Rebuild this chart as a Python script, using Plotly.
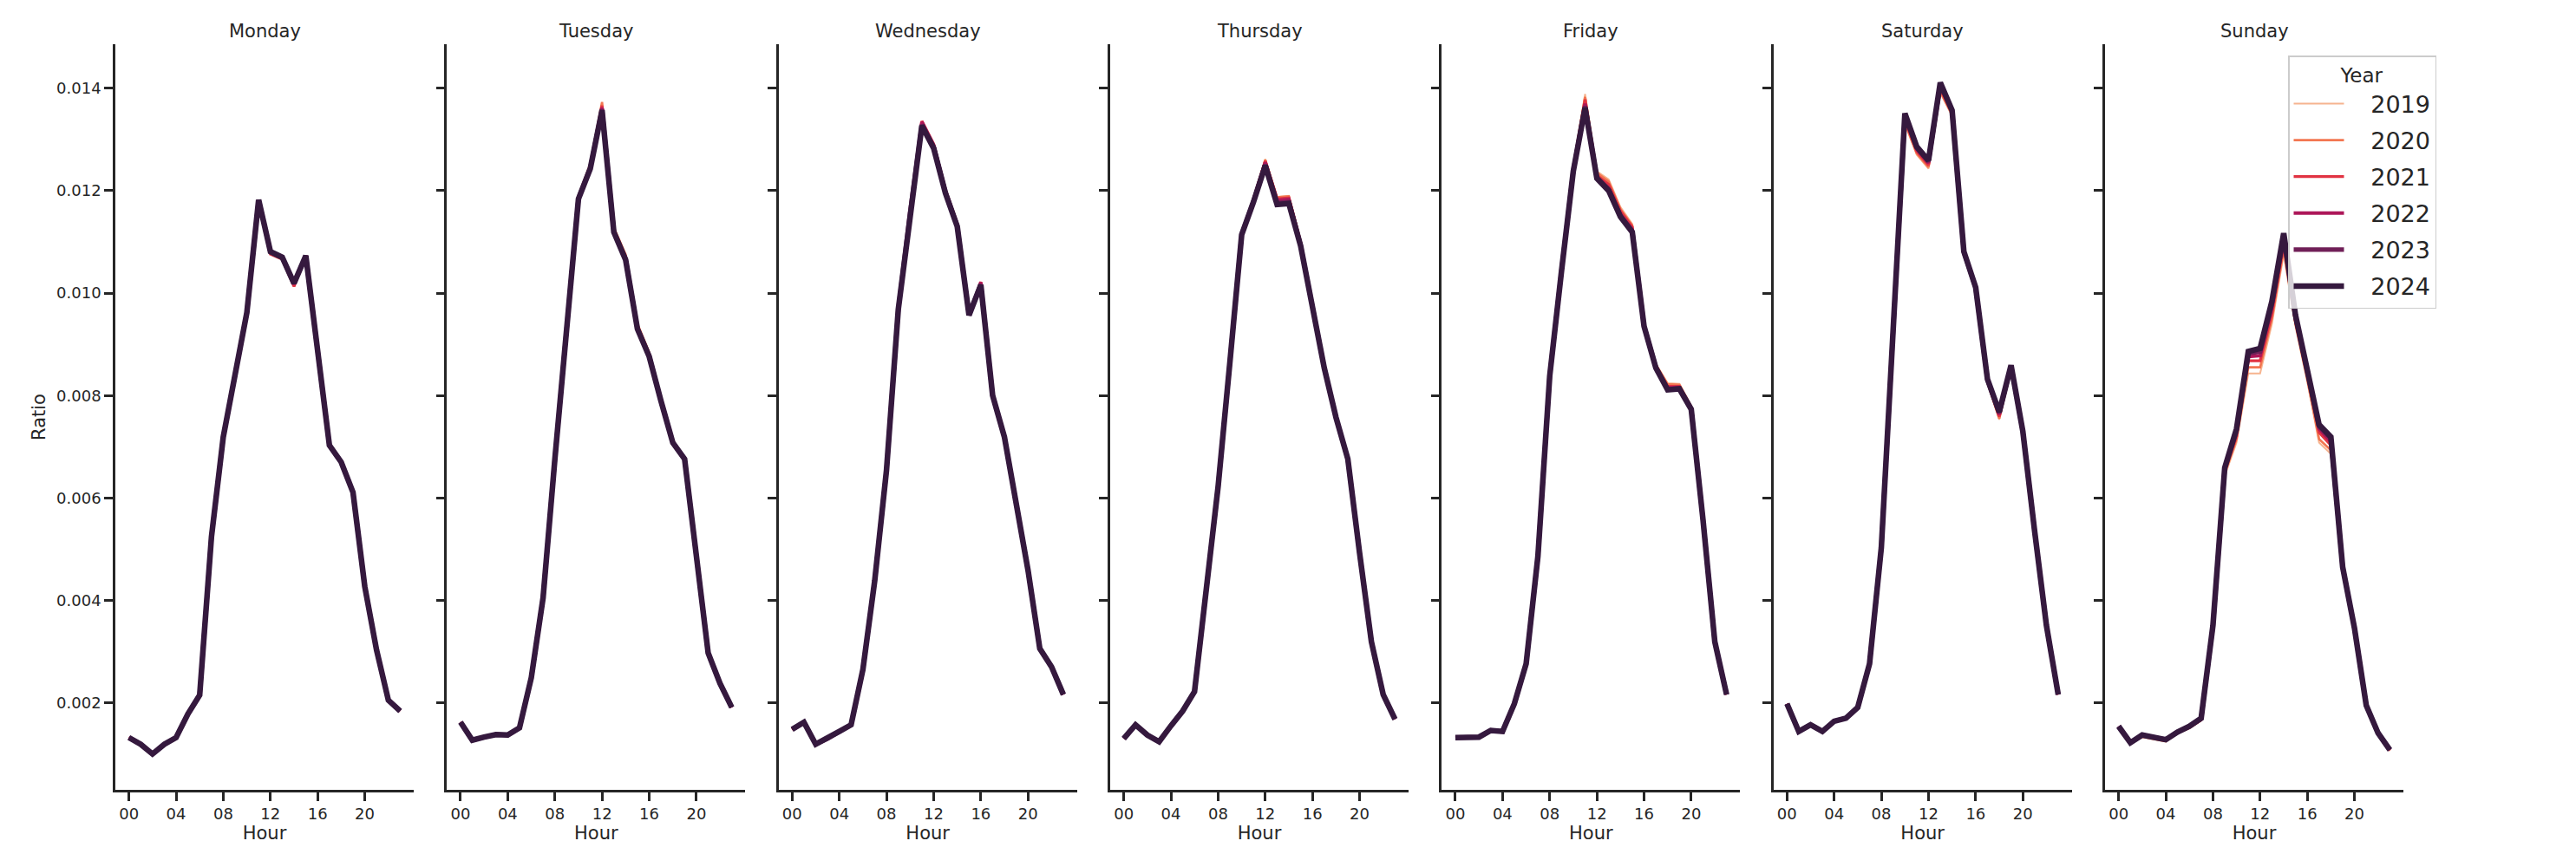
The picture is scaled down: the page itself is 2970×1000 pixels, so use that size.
import plotly.graph_objects as go

HOURS = list(range(24))
DAYS = ["Monday", "Tuesday", "Wednesday", "Thursday", "Friday", "Saturday", "Sunday"]
YEARS = ["2019", "2020", "2021", "2022", "2023", "2024"]
COLORS = ["#f6b48f", "#f37651", "#e13342", "#ad1759", "#701f57", "#35193e"]
WIDTHS = [2.0, 2.7, 3.3, 4.0, 5.2, 6.5]
X_TICKS = [0, 4, 8, 12, 16, 20]
X_TICKTEXT = ["00", "04", "08", "12", "16", "20"]
Y_TICKS = [0.002, 0.004, 0.006, 0.008, 0.010, 0.012, 0.014]

# ---------------- Monday ----------------
MON_2019 = [0.00132,0.00119,0.00100,0.00119,0.00132,0.00178,0.00215,0.00524,0.00719,0.00843,0.00962,0.01182,0.01079,0.01068,0.01016,0.01073,0.00881,0.00703,0.00670,0.00611,0.00427,0.00303,0.00205,0.00184]
MON_2020 = [0.00132,0.00119,0.00100,0.00119,0.00132,0.00178,0.00215,0.00524,0.00719,0.00843,0.00962,0.01182,0.01079,0.01068,0.01016,0.01073,0.00881,0.00703,0.00670,0.00611,0.00427,0.00303,0.00205,0.00184]
MON_2021 = [0.00132,0.00119,0.00100,0.00119,0.00132,0.00178,0.00215,0.00524,0.00719,0.00843,0.00960,0.01182,0.01076,0.01066,0.01013,0.01073,0.00881,0.00703,0.00670,0.00611,0.00427,0.00303,0.00205,0.00184]
MON_2022 = [0.00132,0.00119,0.00100,0.00119,0.00132,0.00178,0.00215,0.00524,0.00719,0.00843,0.00962,0.01182,0.01080,0.01069,0.01017,0.01073,0.00881,0.00703,0.00670,0.00611,0.00427,0.00303,0.00205,0.00184]
MON_2023 = [0.00132,0.00119,0.00100,0.00119,0.00132,0.00178,0.00215,0.00524,0.00719,0.00843,0.00962,0.01182,0.01081,0.01070,0.01019,0.01073,0.00881,0.00703,0.00670,0.00611,0.00427,0.00303,0.00205,0.00184]
MON_2024 = [0.00132,0.00119,0.00100,0.00119,0.00132,0.00178,0.00215,0.00524,0.00719,0.00843,0.00962,0.01182,0.01081,0.01070,0.01019,0.01073,0.00881,0.00703,0.00670,0.00611,0.00427,0.00303,0.00205,0.00184]

# ---------------- Tuesday ----------------
TUE_2019 = [0.00162,0.00127,0.00133,0.00138,0.00137,0.00151,0.00249,0.00405,0.00676,0.00926,0.01188,0.01250,0.01368,0.01126,0.01073,0.00938,0.00882,0.00794,0.00711,0.00678,0.00492,0.00297,0.00238,0.00191]
TUE_2020 = [0.00162,0.00127,0.00133,0.00138,0.00137,0.00151,0.00249,0.00405,0.00676,0.00926,0.01190,0.01252,0.01373,0.01128,0.01075,0.00940,0.00884,0.00795,0.00712,0.00678,0.00492,0.00297,0.00238,0.00191]
TUE_2021 = [0.00162,0.00127,0.00133,0.00138,0.00137,0.00151,0.00249,0.00405,0.00676,0.00925,0.01187,0.01248,0.01366,0.01124,0.01071,0.00936,0.00880,0.00792,0.00710,0.00677,0.00492,0.00297,0.00238,0.00191]
TUE_2022 = [0.00162,0.00127,0.00133,0.00138,0.00137,0.00151,0.00249,0.00405,0.00676,0.00924,0.01186,0.01246,0.01362,0.01122,0.01068,0.00933,0.00878,0.00790,0.00709,0.00676,0.00492,0.00297,0.00238,0.00191]
TUE_2023 = [0.00162,0.00127,0.00133,0.00138,0.00137,0.00151,0.00249,0.00405,0.00676,0.00924,0.01185,0.01244,0.01359,0.01120,0.01066,0.00931,0.00877,0.00789,0.00708,0.00676,0.00492,0.00297,0.00238,0.00191]
TUE_2024 = [0.00162,0.00127,0.00133,0.00138,0.00137,0.00151,0.00249,0.00405,0.00676,0.00924,0.01184,0.01243,0.01357,0.01119,0.01065,0.00930,0.00876,0.00789,0.00708,0.00676,0.00492,0.00297,0.00238,0.00191]

# ---------------- Wednesday ----------------
WED_2019 = [0.00148,0.00162,0.00119,0.00130,0.00144,0.00157,0.00265,0.00438,0.00654,0.00968,0.01158,0.01330,0.01286,0.01197,0.01132,0.00957,0.01018,0.00800,0.00719,0.00589,0.00459,0.00306,0.00270,0.00216]
WED_2020 = [0.00148,0.00162,0.00119,0.00130,0.00144,0.00157,0.00265,0.00438,0.00654,0.00968,0.01158,0.01332,0.01287,0.01198,0.01133,0.00957,0.01019,0.00800,0.00719,0.00589,0.00459,0.00306,0.00270,0.00216]
WED_2021 = [0.00148,0.00162,0.00119,0.00130,0.00144,0.00157,0.00265,0.00438,0.00654,0.00968,0.01159,0.01336,0.01291,0.01202,0.01136,0.00958,0.01022,0.00800,0.00719,0.00589,0.00459,0.00306,0.00270,0.00216]
WED_2022 = [0.00148,0.00162,0.00119,0.00130,0.00144,0.00157,0.00265,0.00438,0.00654,0.00968,0.01158,0.01334,0.01289,0.01200,0.01134,0.00958,0.01021,0.00800,0.00719,0.00589,0.00459,0.00306,0.00270,0.00216]
WED_2023 = [0.00148,0.00162,0.00119,0.00130,0.00144,0.00157,0.00265,0.00438,0.00654,0.00968,0.01157,0.01329,0.01285,0.01196,0.01131,0.00957,0.01017,0.00800,0.00719,0.00589,0.00459,0.00306,0.00270,0.00216]
WED_2024 = [0.00148,0.00162,0.00119,0.00130,0.00144,0.00157,0.00265,0.00438,0.00654,0.00968,0.01157,0.01327,0.01283,0.01195,0.01130,0.00957,0.01016,0.00800,0.00719,0.00589,0.00459,0.00306,0.00270,0.00216]

# ---------------- Thursday ----------------
THU_2019 = [0.00130,0.00157,0.00137,0.00124,0.00155,0.00184,0.00222,0.00427,0.00622,0.00865,0.01118,0.01186,0.01262,0.01188,0.01190,0.01102,0.00972,0.00856,0.00758,0.00676,0.00492,0.00319,0.00216,0.00168]
THU_2020 = [0.00130,0.00157,0.00137,0.00124,0.00155,0.00184,0.00222,0.00427,0.00622,0.00865,0.01118,0.01185,0.01260,0.01187,0.01189,0.01101,0.00971,0.00856,0.00758,0.00676,0.00492,0.00319,0.00216,0.00168]
THU_2021 = [0.00130,0.00157,0.00137,0.00124,0.00155,0.00184,0.00222,0.00427,0.00622,0.00865,0.01117,0.01183,0.01258,0.01184,0.01186,0.01099,0.00970,0.00855,0.00757,0.00676,0.00492,0.00319,0.00216,0.00168]
THU_2022 = [0.00130,0.00157,0.00137,0.00124,0.00155,0.00184,0.00222,0.00427,0.00622,0.00865,0.01116,0.01181,0.01255,0.01181,0.01183,0.01096,0.00969,0.00855,0.00757,0.00676,0.00492,0.00319,0.00216,0.00168]
THU_2023 = [0.00130,0.00157,0.00137,0.00124,0.00155,0.00184,0.00222,0.00427,0.00622,0.00865,0.01115,0.01179,0.01251,0.01176,0.01178,0.01093,0.00968,0.00854,0.00757,0.00676,0.00492,0.00319,0.00216,0.00168]
THU_2024 = [0.00130,0.00157,0.00137,0.00124,0.00155,0.00184,0.00222,0.00427,0.00622,0.00865,0.01114,0.01178,0.01249,0.01173,0.01175,0.01092,0.00968,0.00854,0.00757,0.00676,0.00492,0.00319,0.00216,0.00168]

# ---------------- Friday ----------------
FRI_2019 = [0.00132,0.00133,0.00133,0.00146,0.00144,0.00198,0.00276,0.00486,0.00838,0.01048,0.01250,0.01389,0.01238,0.01222,0.01168,0.01135,0.00942,0.00862,0.00824,0.00823,0.00780,0.00560,0.00319,0.00216]
FRI_2020 = [0.00132,0.00133,0.00133,0.00146,0.00144,0.00198,0.00276,0.00486,0.00838,0.01047,0.01247,0.01383,0.01235,0.01218,0.01164,0.01132,0.00940,0.00860,0.00822,0.00821,0.00778,0.00559,0.00319,0.00216]
FRI_2021 = [0.00132,0.00133,0.00133,0.00146,0.00144,0.00198,0.00276,0.00486,0.00838,0.01046,0.01244,0.01378,0.01230,0.01212,0.01160,0.01129,0.00938,0.00858,0.00818,0.00818,0.00776,0.00558,0.00319,0.00216]
FRI_2022 = [0.00132,0.00133,0.00133,0.00146,0.00144,0.00198,0.00276,0.00486,0.00838,0.01045,0.01241,0.01370,0.01227,0.01205,0.01154,0.01124,0.00937,0.00856,0.00815,0.00816,0.00775,0.00558,0.00319,0.00216]
FRI_2023 = [0.00132,0.00133,0.00133,0.00146,0.00144,0.00198,0.00276,0.00486,0.00838,0.01044,0.01239,0.01365,0.01225,0.01202,0.01151,0.01121,0.00936,0.00855,0.00812,0.00814,0.00774,0.00557,0.00319,0.00216]
FRI_2024 = [0.00132,0.00133,0.00133,0.00146,0.00144,0.00198,0.00276,0.00486,0.00838,0.01043,0.01238,0.01362,0.01224,0.01200,0.01149,0.01119,0.00935,0.00854,0.00811,0.00813,0.00773,0.00557,0.00319,0.00216]

# ---------------- Saturday ----------------
SAT_2019 = [0.00198,0.00144,0.00157,0.00144,0.00164,0.00170,0.00191,0.00276,0.00503,0.00940,0.01330,0.01270,0.01243,0.01391,0.01346,0.01075,0.01005,0.00824,0.00753,0.00850,0.00728,0.00535,0.00351,0.00216]
SAT_2020 = [0.00198,0.00144,0.00157,0.00144,0.00164,0.00170,0.00191,0.00276,0.00503,0.00941,0.01333,0.01273,0.01246,0.01394,0.01348,0.01076,0.01006,0.00826,0.00755,0.00852,0.00729,0.00535,0.00351,0.00216]
SAT_2021 = [0.00198,0.00144,0.00157,0.00144,0.00164,0.00170,0.00191,0.00276,0.00503,0.00943,0.01338,0.01277,0.01250,0.01399,0.01351,0.01078,0.01008,0.00828,0.00759,0.00855,0.00729,0.00535,0.00351,0.00216]
SAT_2022 = [0.00198,0.00144,0.00157,0.00144,0.00164,0.00170,0.00191,0.00276,0.00503,0.00944,0.01343,0.01281,0.01254,0.01404,0.01354,0.01079,0.01009,0.00830,0.00763,0.00857,0.00730,0.00535,0.00351,0.00216]
SAT_2023 = [0.00198,0.00144,0.00157,0.00144,0.00164,0.00170,0.00191,0.00276,0.00503,0.00945,0.01348,0.01284,0.01257,0.01408,0.01356,0.01080,0.01010,0.00831,0.00766,0.00858,0.00730,0.00535,0.00351,0.00216]
SAT_2024 = [0.00198,0.00144,0.00157,0.00144,0.00164,0.00170,0.00191,0.00276,0.00503,0.00946,0.01351,0.01286,0.01259,0.01411,0.01357,0.01081,0.01011,0.00832,0.00768,0.00859,0.00730,0.00535,0.00351,0.00216]

# ---------------- Sunday ----------------
SUN_2019 = [0.00152,0.00120,0.00133,0.00128,0.00124,0.00140,0.00150,0.00165,0.00345,0.00643,0.00708,0.00843,0.00843,0.00940,0.01076,0.00935,0.00827,0.00708,0.00686,0.00460,0.00340,0.00192,0.00139,0.00106]
SUN_2020 = [0.00153,0.00121,0.00134,0.00129,0.00125,0.00141,0.00151,0.00166,0.00347,0.00648,0.00715,0.00855,0.00855,0.00950,0.01085,0.00940,0.00832,0.00715,0.00693,0.00462,0.00342,0.00193,0.00140,0.00107]
SUN_2021 = [0.00153,0.00121,0.00135,0.00130,0.00126,0.00142,0.00152,0.00167,0.00348,0.00652,0.00720,0.00868,0.00868,0.00960,0.01095,0.00945,0.00840,0.00728,0.00703,0.00463,0.00343,0.00194,0.00140,0.00107]
SUN_2022 = [0.00154,0.00122,0.00136,0.00131,0.00127,0.00142,0.00153,0.00168,0.00349,0.00656,0.00727,0.00876,0.00878,0.00972,0.01105,0.00950,0.00846,0.00735,0.00710,0.00464,0.00345,0.00195,0.00141,0.00108]
SUN_2023 = [0.00154,0.00122,0.00137,0.00132,0.00128,0.00143,0.00154,0.00169,0.00350,0.00658,0.00732,0.00882,0.00886,0.00980,0.01110,0.00954,0.00851,0.00740,0.00716,0.00465,0.00346,0.00195,0.00141,0.00108]
SUN_2024 = [0.00154,0.00122,0.00137,0.00132,0.00128,0.00143,0.00154,0.00170,0.00351,0.00659,0.00735,0.00886,0.00892,0.00984,0.01117,0.00957,0.00854,0.00743,0.00719,0.00465,0.00346,0.00195,0.00141,0.00108]

SERIES = {
    "Monday": [MON_2019, MON_2020, MON_2021, MON_2022, MON_2023, MON_2024],
    "Tuesday": [TUE_2019, TUE_2020, TUE_2021, TUE_2022, TUE_2023, TUE_2024],
    "Wednesday": [WED_2019, WED_2020, WED_2021, WED_2022, WED_2023, WED_2024],
    "Thursday": [THU_2019, THU_2020, THU_2021, THU_2022, THU_2023, THU_2024],
    "Friday": [FRI_2019, FRI_2020, FRI_2021, FRI_2022, FRI_2023, FRI_2024],
    "Saturday": [SAT_2019, SAT_2020, SAT_2021, SAT_2022, SAT_2023, SAT_2024],
    "Sunday": [SUN_2019, SUN_2020, SUN_2021, SUN_2022, SUN_2023, SUN_2024],
}

FONT = "DejaVu Sans"
INK = "#262626"
NBSP = "\u00a0"

W, H = 2970, 1000
ML, MR, MT, MB = 133, 199, 51, 89
PLOT_W = W - ML - MR
PANEL_W = 344
GAP = (PLOT_W - 7 * PANEL_W) / 6

fig = go.Figure()
layout = dict(
    width=W, height=H,
    margin=dict(l=ML, r=MR, t=MT, b=MB, pad=0),
    paper_bgcolor="white", plot_bgcolor="white",
    font=dict(family=FONT, color=INK, size=18),
    showlegend=True,
)
annotations = []

for i, day in enumerate(DAYS):
    n = "" if i == 0 else str(i + 1)
    x0 = (i * (PANEL_W + GAP)) / PLOT_W
    x1 = (i * (PANEL_W + GAP) + PANEL_W) / PLOT_W
    for k, yr in enumerate(YEARS):
        fig.add_trace(go.Scatter(
            x=HOURS, y=SERIES[day][k], mode="lines",
            line=dict(color=COLORS[k], width=WIDTHS[k]),
            name=NBSP * 3 + yr, legendgroup=yr, showlegend=(i == 0),
            xaxis="x" + n, yaxis="y" + n,
        ))
    layout["xaxis" + n] = dict(
        domain=[x0, x1], anchor="y" + n, range=[-1.15, 24.15],
        tickmode="array", tickvals=X_TICKS, ticktext=X_TICKTEXT,
        ticks="outside", ticklen=10, tickwidth=2.5, tickcolor=INK,
        showline=True, linewidth=2.5, linecolor=INK, showgrid=False, zeroline=False,
        tickfont=dict(size=18, color=INK, family=FONT),
        title=dict(text="Hour", font=dict(size=21, color=INK, family=FONT), standoff=4),
    )
    layout["yaxis" + n] = dict(
        domain=[0, 1], anchor="x" + n, range=[0.0003, 0.01486],
        tickmode="array", tickvals=Y_TICKS, tickformat=".3f",
        ticks="outside", ticklen=10, tickwidth=2.5, tickcolor=INK,
        showline=True, linewidth=2.5, linecolor=INK, showgrid=False, zeroline=False,
        showticklabels=(i == 0),
        tickfont=dict(size=18, color=INK, family=FONT),
    )
    if i == 0:
        layout["yaxis"]["title"] = dict(text="Ratio", font=dict(size=21, color=INK, family=FONT), standoff=7)
    annotations.append(dict(
        text=day, xref="paper", yref="paper", x=(x0 + x1) / 2, y=1,
        xanchor="center", yanchor="bottom", yshift=1, showarrow=False,
        font=dict(size=21, color=INK, family=FONT),
    ))

layout["annotations"] = annotations
layout["legend"] = dict(
    title=dict(text="Year", font=dict(size=23, color=INK, family=FONT), side="top center"),
    font=dict(size=27, color=INK, family=FONT),
    x=(2638 - ML) / PLOT_W, y=1 - (64 - MT) / (H - MT - MB),
    xanchor="left", yanchor="top",
    bgcolor="rgba(255,255,255,0.8)", bordercolor="#cccccc", borderwidth=1.5,
    itemwidth=58, tracegroupgap=4,
)
fig.update_layout(**layout)
fig.write_html("out.html")
